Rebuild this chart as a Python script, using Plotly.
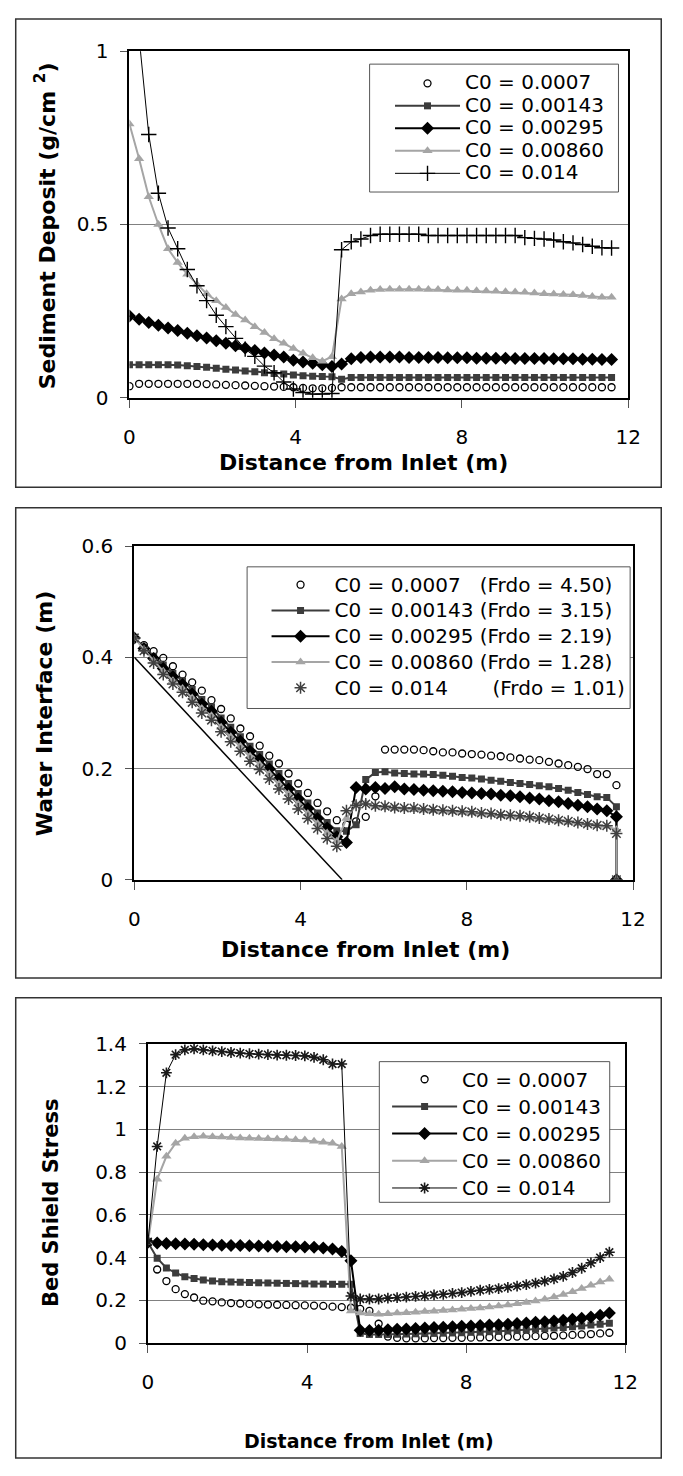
import plotly.graph_objects as go

W, H = 683, 1476
FONT = "DejaVu Sans"

# ---------------- data ----------------
x_dist = [0.0, 0.232, 0.464, 0.696, 0.928, 1.16, 1.392, 1.624, 1.856, 2.088,
          2.32, 2.552, 2.784, 3.016, 3.248, 3.48, 3.712, 3.944, 4.176, 4.408,
          4.64, 4.872, 5.104, 5.336, 5.568, 5.8, 6.032, 6.264, 6.496, 6.728,
          6.96, 7.192, 7.424, 7.656, 7.888, 8.12, 8.352, 8.584, 8.816, 9.048,
          9.28, 9.512, 9.744, 9.976, 10.208, 10.44, 10.672, 10.904, 11.136,
          11.368, 11.6]
x_outlet = [11.6]
x_water = x_dist + x_outlet

names = ["C0 = 0.0007", "C0 = 0.00143", "C0 = 0.00295", "C0 = 0.00860", "C0 = 0.014"]
names_fr = ["C0 = 0.0007\u00a0\u00a0 (Frdo = 4.50)",
            "C0 = 0.00143 (Frdo = 3.15)",
            "C0 = 0.00295 (Frdo = 2.19)",
            "C0 = 0.00860 (Frdo = 1.28)",
            "C0 = 0.014\u00a0\u00a0\u00a0\u00a0\u00a0\u00a0 (Frdo = 1.01)"]

# Panel 1: sediment deposit (g/cm2)
dep_0007 = [0.033, 0.04, 0.04, 0.04, 0.04, 0.04, 0.04, 0.04, 0.039, 0.038,
            0.037, 0.036, 0.035, 0.034, 0.033, 0.032, 0.031, 0.03, 0.028, 0.027,
            0.027, 0.028, 0.03, 0.03, 0.03, 0.03, 0.03, 0.03, 0.03, 0.03,
            0.03, 0.03, 0.03, 0.03, 0.03, 0.03, 0.03, 0.03, 0.03, 0.03,
            0.03, 0.03, 0.03, 0.03, 0.03, 0.03, 0.03, 0.03, 0.03, 0.03, 0.03]
dep_00143 = [0.095, 0.095, 0.095, 0.095, 0.095, 0.094, 0.092, 0.09, 0.088, 0.085,
             0.082, 0.08, 0.077, 0.075, 0.072, 0.07, 0.068, 0.065, 0.063, 0.062,
             0.061, 0.06, 0.053, 0.058, 0.058, 0.058, 0.058, 0.058, 0.058, 0.058,
             0.058, 0.058, 0.058, 0.058, 0.058, 0.058, 0.058, 0.058, 0.058, 0.058,
             0.058, 0.058, 0.058, 0.058, 0.058, 0.058, 0.058, 0.058, 0.058, 0.058, 0.058]
dep_00295 = [0.236, 0.226, 0.217, 0.209, 0.201, 0.194, 0.186, 0.179, 0.172, 0.164,
             0.157, 0.15, 0.143, 0.136, 0.129, 0.123, 0.117, 0.108, 0.103, 0.099,
             0.095, 0.09, 0.097, 0.112, 0.116, 0.117, 0.117, 0.117, 0.117, 0.116,
             0.116, 0.116, 0.116, 0.115, 0.115, 0.115, 0.114, 0.114, 0.114, 0.114,
             0.113, 0.113, 0.113, 0.113, 0.112, 0.112, 0.112, 0.111, 0.111, 0.11, 0.11]
dep_00860 = [0.79, 0.69, 0.58, 0.5, 0.43, 0.39, 0.356, 0.327, 0.3, 0.28,
             0.26, 0.24, 0.224, 0.205, 0.188, 0.17, 0.157, 0.142, 0.128, 0.115,
             0.105, 0.118, 0.285, 0.3, 0.305, 0.31, 0.312, 0.313, 0.313, 0.313,
             0.313, 0.312, 0.312, 0.311, 0.31, 0.31, 0.309, 0.308, 0.307, 0.306,
             0.305, 0.304, 0.302, 0.3, 0.299, 0.298, 0.297, 0.295, 0.292, 0.29, 0.29]
dep_014 = [1.35, 1.04, 0.76, 0.59, 0.49, 0.43, 0.37, 0.323, 0.28, 0.238,
           0.205, 0.171, 0.14, 0.119, 0.091, 0.072, 0.045, 0.025, 0.015, 0.01,
           0.01, 0.012, 0.427, 0.45, 0.458, 0.468, 0.472, 0.472, 0.472, 0.472,
           0.472, 0.468, 0.468, 0.468, 0.468, 0.468, 0.468, 0.468, 0.468, 0.468,
           0.468, 0.462, 0.46, 0.458, 0.455, 0.45, 0.447, 0.442, 0.437, 0.433, 0.432]

# Panel 2: water interface (m)
wat_0007 = [0.435, 0.422, 0.411, 0.399, 0.384, 0.369, 0.355, 0.34, 0.323, 0.307,
            0.29, 0.272, 0.258, 0.241, 0.223, 0.209, 0.191, 0.173, 0.156, 0.138,
            0.123, 0.107, 0.099, 0.105, 0.113, 0.15, 0.234, 0.234, 0.234, 0.234,
            0.233, 0.231, 0.229, 0.229, 0.227, 0.226, 0.225, 0.223, 0.222, 0.22,
            0.218, 0.216, 0.215, 0.212, 0.209, 0.206, 0.203, 0.199, 0.19, 0.19, 0.17,
            0.0]
wat_00143 = [0.435, 0.418, 0.402, 0.386, 0.371, 0.358, 0.342, 0.324, 0.311, 0.291,
             0.274, 0.257, 0.24, 0.225, 0.208, 0.191, 0.173, 0.155, 0.138, 0.12,
             0.103, 0.088, 0.087, 0.099, 0.18, 0.193, 0.194, 0.192, 0.191, 0.19,
             0.19, 0.189, 0.188, 0.186, 0.184, 0.183, 0.181, 0.179, 0.177, 0.175,
             0.173, 0.171, 0.169, 0.167, 0.164, 0.161, 0.157, 0.153, 0.149, 0.148, 0.131,
             0.0]
wat_00295 = [0.435, 0.416, 0.398, 0.38, 0.365, 0.351, 0.334, 0.316, 0.303, 0.283,
             0.265, 0.249, 0.231, 0.216, 0.199, 0.181, 0.163, 0.145, 0.128, 0.11,
             0.093, 0.077, 0.067, 0.166, 0.163, 0.166, 0.164, 0.167, 0.163, 0.162,
             0.161, 0.16, 0.159, 0.158, 0.157, 0.156, 0.155, 0.154, 0.152, 0.151,
             0.149, 0.147, 0.145, 0.142, 0.14, 0.137, 0.134, 0.131, 0.127, 0.124, 0.113,
             0.0]
wat_00860 = [0.435, 0.414, 0.394, 0.375, 0.358, 0.344, 0.327, 0.308, 0.295, 0.274,
             0.257, 0.24, 0.222, 0.207, 0.19, 0.172, 0.154, 0.136, 0.119, 0.101,
             0.084, 0.069, 0.11, 0.135, 0.138, 0.131, 0.13, 0.128, 0.127, 0.126,
             0.125, 0.124, 0.123, 0.122, 0.121, 0.12, 0.118, 0.117, 0.115, 0.114,
             0.113, 0.111, 0.109, 0.107, 0.105, 0.103, 0.101, 0.099, 0.097, 0.096, 0.09,
             0.0]
wat_014 = [0.435, 0.412, 0.39, 0.369, 0.352, 0.337, 0.319, 0.3, 0.287, 0.266,
           0.248, 0.231, 0.213, 0.198, 0.181, 0.163, 0.145, 0.127, 0.11, 0.092,
           0.074, 0.06, 0.124, 0.134, 0.136, 0.133, 0.132, 0.13, 0.129, 0.129,
           0.127, 0.126, 0.125, 0.124, 0.123, 0.122, 0.12, 0.119, 0.117, 0.116,
           0.115, 0.113, 0.111, 0.109, 0.107, 0.105, 0.103, 0.1, 0.098, 0.097, 0.083,
           0.0]
bed_x = [0.0, 5.0]
bed_y = [0.4, 0.0]

# Panel 3: bed Shields stress
sh_0007 = [0.47, 0.344, 0.29, 0.252, 0.229, 0.213, 0.198, 0.195, 0.19, 0.187,
           0.185, 0.183, 0.181, 0.18, 0.179, 0.178, 0.177, 0.176, 0.175, 0.174,
           0.17, 0.168, 0.165, 0.16, 0.15, 0.09, 0.03, 0.024, 0.022, 0.022,
           0.022, 0.023, 0.023, 0.024, 0.024, 0.025, 0.026, 0.027, 0.028, 0.029,
           0.03, 0.031, 0.032, 0.033, 0.034, 0.036, 0.038, 0.04, 0.042, 0.045, 0.048]
sh_00143 = [0.47, 0.397, 0.351, 0.328, 0.31, 0.302, 0.295, 0.29, 0.287, 0.285,
            0.284, 0.283, 0.282, 0.281, 0.28, 0.279, 0.278, 0.277, 0.276, 0.276,
            0.275, 0.275, 0.275, 0.045, 0.04, 0.04, 0.04, 0.041, 0.042, 0.043,
            0.044, 0.045, 0.046, 0.047, 0.048, 0.05, 0.051, 0.053, 0.055, 0.057,
            0.059, 0.061, 0.064, 0.067, 0.07, 0.073, 0.076, 0.08, 0.084, 0.088, 0.092]
sh_00295 = [0.472, 0.468, 0.466, 0.465, 0.463, 0.462, 0.46, 0.459, 0.458, 0.457,
            0.456, 0.455, 0.454, 0.453, 0.452, 0.451, 0.45, 0.449, 0.448, 0.445,
            0.44, 0.428, 0.385, 0.06, 0.058, 0.06, 0.062, 0.064, 0.066, 0.068,
            0.07, 0.072, 0.074, 0.076, 0.078, 0.08, 0.082, 0.084, 0.086, 0.088,
            0.091, 0.094, 0.097, 0.1, 0.103, 0.107, 0.111, 0.116, 0.122, 0.13, 0.14]
sh_00860 = [0.47, 0.766, 0.874, 0.935, 0.958, 0.966, 0.968, 0.966, 0.964, 0.962,
            0.96, 0.958, 0.957, 0.956, 0.955, 0.954, 0.952, 0.95, 0.945, 0.94,
            0.935, 0.92, 0.15, 0.14, 0.137, 0.135, 0.137, 0.14, 0.142, 0.144,
            0.147, 0.149, 0.152, 0.155, 0.158, 0.161, 0.164, 0.168, 0.173, 0.178,
            0.184, 0.19, 0.197, 0.205, 0.215, 0.227, 0.24, 0.255, 0.27, 0.285, 0.298]
sh_014 = [0.474, 0.92, 1.265, 1.35, 1.372, 1.377, 1.372, 1.368, 1.364, 1.36,
          1.357, 1.354, 1.352, 1.35, 1.348, 1.347, 1.346, 1.344, 1.337, 1.326,
          1.306, 1.306, 0.22, 0.206, 0.206, 0.206, 0.21, 0.212, 0.215, 0.218,
          0.221, 0.225, 0.228, 0.232, 0.236, 0.242, 0.247, 0.251, 0.255, 0.26,
          0.266, 0.273, 0.28, 0.29, 0.3, 0.312, 0.33, 0.35, 0.375, 0.4, 0.425]

x_ticks = [0, 4, 8, 12]

# ---------------- helpers ----------------
def fx(p):
    return p / W

def fy(p):
    return 1 - p / H

DARK = "#3c3c3c"
LIGHT = "#a5a5a5"

def style(k, panel):
    if k == 0:
        return dict(mode="markers",
                    marker=dict(symbol="circle-open", size=7, color="black",
                                line=dict(width=1.3, color="black")))
    if k == 1:
        return dict(mode="lines+markers", line=dict(color=DARK, width=2),
                    marker=dict(symbol="square", size=7, color=DARK))
    if k == 2:
        return dict(mode="lines+markers", line=dict(color="black", width=2),
                    marker=dict(symbol="diamond", size=10, color="black"))
    if k == 3:
        return dict(mode="lines+markers", line=dict(color=LIGHT, width=2),
                    marker=dict(symbol="triangle-up", size=9, color=LIGHT))
    if panel == 1:
        return dict(mode="lines+markers", line=dict(color="black", width=1),
                    marker=dict(symbol="cross-thin-open", size=11, color="black",
                                line=dict(width=1.4, color="black")))
    if panel == 2:
        return dict(mode="markers",
                    marker=dict(symbol="asterisk-open", size=10, color="#404040",
                                line=dict(width=1.5, color="#404040")))
    return dict(mode="lines+markers", line=dict(color="black", width=1),
                marker=dict(symbol="asterisk-open", size=9, color="#1a1a1a",
                            line=dict(width=1.6, color="#1a1a1a")))

LEG_TEXT = 20

def big(s):
    return f'<span style="font-size:{LEG_TEXT}px">{s}</span>'

fig = go.Figure()

panels = [
    (1, "x", "y", "legend", x_dist, [dep_0007, dep_00143, dep_00295, dep_00860, dep_014], names),
    (2, "x2", "y2", "legend2", x_water, [wat_0007, wat_00143, wat_00295, wat_00860, wat_014], names_fr),
    (3, "x3", "y3", "legend3", x_dist, [sh_0007, sh_00143, sh_00295, sh_00860, sh_014], names),
]

for panel, xa, ya, lg, xs, series, labels in panels:
    if panel == 2:
        fig.add_trace(go.Scatter(x=bed_x, y=bed_y, mode="lines", xaxis=xa, yaxis=ya,
                                 line=dict(color="black", width=1.5), showlegend=False,
                                 hoverinfo="skip"))
    for k, (ys, nm) in enumerate(zip(series, labels)):
        fig.add_trace(go.Scatter(x=xs, y=ys, name=big(nm), xaxis=xa, yaxis=ya,
                                 legend=lg, legendgroup=f"{panel}-{k}",
                                 **style(k, panel)))

# ---------------- axes ----------------
tickfont = dict(family=FONT, size=20, color="black")

def xaxis(domain, anchor):
    return dict(domain=domain, anchor=anchor, range=[0, 12], tickvals=x_ticks,
                ticks="outside", ticklen=8, tickcolor="#555", tickwidth=1,
                showline=True, linecolor="black", linewidth=2, mirror=True,
                showgrid=False, zeroline=False, tickfont=tickfont,
                ticklabelstandoff=12, fixedrange=True)

def yaxis(domain, anchor, rng, dtick):
    return dict(domain=domain, anchor=anchor, range=rng, dtick=dtick, tick0=0,
                ticks="outside", ticklen=7, tickcolor="#555", tickwidth=1,
                showline=True, linecolor="black", linewidth=2, mirror=True,
                showgrid=True, gridcolor="#808080", gridwidth=1, zeroline=False,
                tickfont=tickfont, ticklabelstandoff=8, fixedrange=True)

fig.update_layout(
    width=W, height=H, margin=dict(l=0, r=0, t=0, b=0),
    paper_bgcolor="white", plot_bgcolor="white",
    font=dict(family=FONT, color="black"),
    xaxis=xaxis([fx(127), fx(640)], "y"),
    yaxis=yaxis([fy(392), fy(40)], "x", [0, 1], 0.5),
    xaxis2=xaxis([fx(132), fx(645)], "y2"),
    yaxis2=yaxis([fy(882), fy(543)], "x2", [0, 0.6], 0.2),
    xaxis3=xaxis([fx(146), fx(637)], "y3"),
    yaxis3=yaxis([fy(1353), fy(1049)], "x3", [0, 1.4], 0.2),
)

def leg(xl, yt, fs, iw):
    return dict(x=fx(xl), y=fy(yt), font=dict(family=FONT, size=fs, color="black"),
                bgcolor="rgba(0,0,0,0)", borderwidth=0, tracegroupgap=0,
                itemwidth=iw, xanchor="left", yanchor="top", traceorder="normal")

fig.update_layout(
    legend=leg(395, 56, 15, 65),
    legend2=leg(268, 564, 17.5, 58),
    legend3=leg(392, 1066, 18.6, 65),
)

# ---------------- boxes ----------------
shapes = []
for (x0, y0, x1, y1) in [(10, 7, 674, 483), (10, 504, 674, 982), (10, 1002, 674, 1470)]:
    shapes.append(dict(type="rect", xref="paper", yref="paper",
                       x0=fx(x0), x1=fx(x1), y0=fy(y1), y1=fy(y0),
                       line=dict(color="#333", width=1.5), fillcolor="rgba(0,0,0,0)",
                       layer="below"))
for (x0, y0, x1, y1) in [(374, 53, 630, 183), (248, 564, 642, 708), (384, 1067, 621, 1210)]:
    shapes.append(dict(type="rect", xref="paper", yref="paper",
                       x0=fx(x0), x1=fx(x1), y0=fy(y1), y1=fy(y0),
                       line=dict(color="#555", width=1), fillcolor="white",
                       layer="above"))
fig.update_layout(shapes=shapes)

# ---------------- titles ----------------
def ann(text, xp, yp, size, angle=0):
    return dict(text=text, x=fx(xp), y=fy(yp), xref="paper", yref="paper",
                showarrow=False, textangle=angle, xanchor="center", yanchor="middle",
                font=dict(family=FONT, size=size, color="black"))

fig.update_layout(annotations=[
    ann("<b>Sediment Deposit (g/cm <sup>2</sup>)</b>", 41, 217, 22, -90),
    ann("<b>Distance from Inlet (m)</b>", 368, 458, 22),
    ann("<b>Water Interface (m)</b>", 40, 713, 22, -90),
    ann("<b>Distance from Inlet (m)</b>", 370, 953, 22),
    ann("<b>Bed Shield Stress</b>", 47, 1211, 21, -90),
    ann("<b>Distance from Inlet (m)</b>", 373, 1453, 19),
])

fig.write_html("out.html")
